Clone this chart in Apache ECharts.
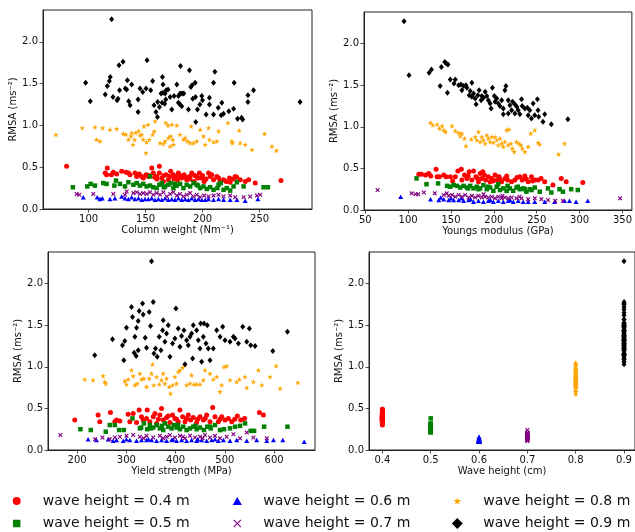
<!DOCTYPE html>
<html><head><meta charset="utf-8">
<script src="https://cdn.jsdelivr.net/npm/echarts@6/dist/echarts.min.js"></script>
<style>html,body{margin:0;padding:0;background:#fff}#c{width:635px;height:532px}</style>
</head><body><div id="c"></div>
<script>
// ---------- Data ----------
const waveHeights = [0.4, 0.5, 0.6, 0.7, 0.8, 0.9];
const seriesNames = ['wave height = 0.4 m','wave height = 0.5 m','wave height = 0.6 m','wave height = 0.7 m','wave height = 0.8 m','wave height = 0.9 m'];
const yTicks = [0, 0.5, 1.0, 1.5, 2.0];
const cwTicks = [100, 150, 200, 250];
const ymTicks = [50, 100, 150, 200, 250, 300, 350];
const ysTicks = [200, 300, 400, 500, 600];
const whTicks = [0.4, 0.5, 0.6, 0.7, 0.8, 0.9];

// Panel 1: Column weight (Nm^-1) vs RMSA
const cw_04 = [[114.6,0.43],[115.8,0.41],[116.4,0.49],[121.7,0.44],[124.6,0.42],[129,0.45],[132.8,0.44],[136.3,0.41],[140.7,0.43],[142.2,0.39],[144.5,0.42],[146.6,0.39],[148,0.37],[150.4,0.41],[152.4,0.39],[155.4,0.49],[156.8,0.43],[159.7,0.39],[162.1,0.43],[162.1,0.51],[164.2,0.37],[165.6,0.33],[168,0.41],[170,0.35],[172,0.45],[174.4,0.41],[176.8,0.39],[178.8,0.43],[181.7,0.37],[183.8,0.41],[186.1,0.35],[188.5,0.39],[190.5,0.43],[192.6,0.33],[194.9,0.39],[197.3,0.43],[199.3,0.37],[201.4,0.33],[205.2,0.43],[206.6,0.39],[209.6,0.35],[212.5,0.39],[215.4,0.33],[218.4,0.35],[220.7,0.33],[223.6,0.37],[228.6,0.39],[233,0.35],[237.4,0.33],[240.4,0.35],[246.2,0.31],[224.2,0.32],[80.7,0.51],[268.8,0.34],[153,0.40],[158,0.38],[166,0.40],[171,0.39],[175,0.36],[180,0.40],[185,0.38],[189,0.36],[196,0.37],[203,0.36],[208,0.41],[214,0.37],[227,0.36],[230,0.38],[120,0.41],[135,0.43],[160,0.36],[178,0.35],[193,0.40],[200,0.40]];
const cw_05 = [[86.2,0.26],[98.8,0.27],[101.8,0.30],[105.6,0.28],[112.9,0.31],[115.8,0.30],[124,0.34],[122.6,0.28],[127.5,0.30],[131.9,0.27],[134.9,0.32],[139.3,0.29],[142.2,0.31],[148,0.30],[150.9,0.27],[153.9,0.39],[153.9,0.28],[156.8,0.26],[159.7,0.25],[162.1,0.29],[164.2,0.31],[167.1,0.27],[170,0.29],[172,0.31],[174.4,0.25],[177.4,0.28],[180.3,0.30],[183.2,0.25],[186.1,0.29],[189.1,0.27],[192,0.31],[194.9,0.29],[197.9,0.25],[200.8,0.27],[203.7,0.24],[206.6,0.26],[209.6,0.23],[214,0.29],[216,0.31],[218.4,0.23],[221.3,0.25],[224.2,0.22],[227.2,0.27],[230.1,0.32],[236,0.27],[253.5,0.26],[257.3,0.26],[145,0.28],[166,0.26],[176,0.30],[196,0.28],[213,0.25]];
const cw_06 = [[95.3,0.14],[107.6,0.14],[110,0.12],[112,0.13],[118.8,0.12],[123.1,0.13],[129,0.15],[131.9,0.13],[134.9,0.12],[137.8,0.14],[140.7,0.12],[143.7,0.13],[146.6,0.11],[149.5,0.12],[152.4,0.12],[155.4,0.13],[158.3,0.11],[161.2,0.12],[164.2,0.11],[167.1,0.13],[170,0.11],[173,0.12],[175.9,0.11],[178.8,0.13],[181.7,0.11],[184.7,0.12],[187.6,0.11],[190.5,0.13],[193.5,0.11],[196.4,0.12],[199.3,0.11],[202.3,0.11],[205.2,0.12],[209.6,0.11],[214,0.12],[218.4,0.11],[224.2,0.11],[230.1,0.11],[237.4,0.10],[248.5,0.12]];
const cw_07 = [[89.5,0.18],[91.8,0.17],[104.1,0.18],[121.7,0.18],[133.4,0.21],[131.9,0.17],[139.3,0.19],[142.2,0.20],[145.1,0.18],[148,0.19],[150.9,0.18],[153.9,0.20],[156.8,0.17],[159.7,0.19],[162.7,0.17],[165.6,0.20],[168.6,0.15],[171.5,0.18],[174.4,0.20],[177.4,0.16],[180.3,0.18],[183.2,0.15],[186.1,0.17],[189.1,0.19],[192,0.15],[194.9,0.17],[197.9,0.14],[201.4,0.16],[205.2,0.15],[209.6,0.16],[214,0.17],[218.4,0.15],[224.2,0.16],[228.6,0.14],[236,0.14],[241.8,0.15],[247.7,0.16],[250.6,0.17]];
const cw_08 = [[71.3,0.89],[94.4,0.97],[105.6,0.98],[107,0.83],[110,0.81],[112.3,0.97],[124.6,0.96],[118.8,0.95],[130.5,0.90],[132.8,0.89],[134.9,0.83],[137.2,0.87],[139,0.77],[140.4,0.83],[137.8,0.91],[141.3,0.91],[143.7,0.93],[145.1,0.88],[146.6,0.89],[148.6,0.99],[152.2,1.01],[148,0.83],[150.9,0.80],[153.3,0.83],[156.2,0.89],[157.6,0.93],[158.3,1.05],[150.4,0.67],[162.7,0.79],[165.6,0.78],[167.1,0.81],[167.7,1.03],[169.7,1.0],[173,1.01],[177.4,1.00],[170,0.85],[172,0.87],[173.8,0.83],[171.5,0.75],[174.4,0.77],[180.3,0.89],[183.2,0.83],[184.7,0.85],[186.7,0.81],[189.9,0.99],[192,0.79],[197.9,0.95],[200.8,0.87],[202.3,0.77],[205.2,0.97],[206,0.83],[209.6,0.80],[212.5,0.81],[214,0.93],[222.2,1.03],[225.7,0.81],[226.3,0.79],[232.1,0.94],[233,0.79],[237.4,0.77],[243.3,0.71],[254.4,0.90],[260.9,0.75],[264.7,0.70],[189.1,0.79],[194.9,0.81]];
const cw_09 = [[120.2,2.27],[97.4,1.51],[101.5,1.29],[114.6,1.37],[116.4,1.47],[118.2,1.53],[119,1.58],[126.7,1.72],[130.2,1.76],[151.3,1.78],[121.4,1.34],[125,1.30],[125.8,1.32],[127.2,1.42],[132.2,1.44],[133.4,1.43],[134,1.54],[137.8,1.49],[135.2,1.29],[136.4,1.24],[143.4,1.31],[143.4,1.16],[145.1,1.44],[147.5,1.40],[150.4,1.44],[154.5,1.42],[156.2,1.53],[157.4,1.24],[159.1,1.16],[160.4,1.10],[160.6,1.28],[162.1,1.22],[164.8,1.58],[165.3,1.49],[163.6,1.38],[165.3,1.39],[167.1,1.38],[168,1.42],[169.7,1.43],[164.5,1.27],[166.8,1.26],[167.7,1.31],[171.5,1.34],[173,1.19],[175,1.35],[177.4,1.49],[178.8,1.35],[180.3,1.38],[180.6,1.71],[178.8,1.27],[180.3,1.25],[181.7,1.23],[182,1.38],[183.5,1.38],[187.6,1.19],[188.5,1.66],[189.7,1.46],[190.8,1.48],[193.5,1.51],[191.4,1.32],[193.8,1.34],[195.5,1.19],[194,1.04],[197.6,1.25],[199.3,1.35],[199.9,1.30],[203.1,1.13],[206,1.33],[206,1.25],[209.6,1.51],[210.8,1.64],[209.6,1.13],[213.7,1.21],[216.9,1.27],[216.3,1.12],[218.4,1.14],[223,1.17],[227.2,1.20],[227.7,1.51],[230.7,1.08],[234.2,1.09],[235.1,1.07],[239.8,1.28],[239.8,1.36],[244.7,1.42],[285.5,1.28]];

// Panel 2: Youngs modulus (GPa) vs RMSA
const ym_04 = [[112.5,0.43],[115.6,0.43],[120.3,0.42],[124.1,0.44],[126.4,0.41],[132.6,0.49],[133.8,0.40],[136.5,0.40],[141.5,0.42],[144.2,0.40],[149.2,0.40],[151.9,0.35],[155,0.40],[162,0.49],[162.7,0.36],[165.8,0.42],[168.5,0.38],[171.2,0.46],[174.3,0.36],[176.3,0.47],[179,0.40],[182,0.34],[184,0.44],[185.9,0.38],[189,0.42],[190.5,0.36],[193.6,0.40],[195.6,0.34],[197.5,0.38],[201.4,0.42],[203.3,0.36],[206,0.40],[209.1,0.34],[212.9,0.38],[216,0.36],[220.7,0.34],[224.5,0.36],[230.3,0.40],[233,0.36],[236.1,0.41],[240,0.34],[243.8,0.40],[247.7,0.36],[251.5,0.36],[259.3,0.34],[268.9,0.30],[278.6,0.38],[284.4,0.34],[303.7,0.33],[158,0.47],[170,0.41],[181,0.38],[187,0.46],[199,0.35],[207,0.37],[215,0.41],[227,0.39],[238,0.37],[245,0.35],[255,0.38]];
const ym_05 = [[109.8,0.38],[121.4,0.31],[134.9,0.32],[145.4,0.29],[149.2,0.28],[153.1,0.30],[157,0.29],[160.8,0.27],[164.7,0.29],[168.5,0.27],[172.4,0.29],[176.3,0.26],[180.1,0.28],[184,0.26],[187.8,0.30],[191.7,0.25],[195.6,0.27],[199.4,0.23],[203.3,0.28],[207.1,0.24],[211,0.26],[214.9,0.23],[218.7,0.26],[222.6,0.23],[226.4,0.27],[230.3,0.25],[234.2,0.26],[238,0.22],[241.9,0.25],[247.7,0.27],[253.5,0.22],[263.1,0.26],[267,0.21],[276.6,0.25],[280.5,0.22],[290.2,0.25],[297.9,0.24],[170,0.26],[182,0.25],[193,0.28],[205,0.31],[216,0.29],[228,0.28],[236,0.25],[244,0.24]];
const ym_06 = [[91.3,0.16],[126.1,0.13],[135.7,0.12],[141.5,0.13],[147.3,0.12],[153.1,0.12],[158.9,0.12],[164.7,0.11],[170.5,0.12],[176.3,0.10],[182,0.11],[187.8,0.10],[193.6,0.11],[199.4,0.10],[205.2,0.11],[211,0.10],[216.8,0.11],[222.6,0.10],[228.4,0.11],[234.2,0.10],[240,0.10],[247.7,0.10],[259.3,0.10],[270.8,0.10],[282.4,0.11],[288.2,0.11],[295.9,0.10],[309.5,0.11],[150,0.14],[173,0.13],[196,0.12],[219,0.12],[138,0.15],[162,0.14]];
const ym_07 = [[64.3,0.24],[104.1,0.20],[108.7,0.19],[111.8,0.19],[118.3,0.21],[131.1,0.20],[141.5,0.18],[147.3,0.17],[151.2,0.18],[155,0.16],[158.9,0.18],[162.7,0.16],[166.6,0.18],[170.5,0.15],[174.3,0.17],[178.2,0.15],[182,0.17],[185.9,0.15],[189.8,0.16],[193.6,0.15],[197.5,0.16],[201.4,0.14],[205.2,0.16],[209.1,0.14],[212.9,0.15],[216.8,0.14],[220.7,0.15],[226.4,0.14],[232.3,0.14],[240,0.13],[247.7,0.14],[255.4,0.13],[263.1,0.12],[271.6,0.11],[280.5,0.11],[347.3,0.14],[145,0.20],[188,0.19],[210,0.17],[230,0.16]];
const ym_08 = [[126.1,1.05],[128.8,1.02],[133.8,1.03],[136.5,0.98],[139.6,1.01],[141.5,0.96],[143.8,0.94],[151.2,1.01],[155,0.95],[158.9,0.93],[160.8,0.89],[162.7,0.92],[165.8,0.86],[167.4,0.77],[173.6,0.85],[178.2,0.88],[180.1,0.84],[182,0.94],[184,0.82],[185.9,0.88],[187.8,0.84],[189.8,0.80],[191.7,0.90],[193.6,0.86],[195.6,0.82],[197.5,0.88],[199.4,0.81],[201.4,0.88],[203.3,0.84],[205.2,0.78],[207.1,0.86],[209.1,0.80],[211,0.76],[212.9,0.82],[214.9,0.96],[217.6,0.97],[216.8,0.78],[219.9,0.80],[221.4,0.74],[223.7,0.70],[226.4,0.82],[229.1,0.80],[231.5,0.78],[233,0.74],[236.1,0.70],[240,0.76],[243,0.92],[247.7,0.96],[251.5,0.81],[253.5,0.79],[282.4,0.80],[275.5,0.67]];
const ym_09 = [[95.2,2.27],[101,1.62],[124.5,1.65],[127.2,1.69],[138.8,1.72],[142.7,1.78],[144.6,1.76],[146.5,1.75],[137.3,1.49],[145.8,1.41],[149.2,1.57],[155,1.57],[153.5,1.52],[158.9,1.50],[161.6,1.51],[164.7,1.49],[167.4,1.50],[162.7,1.44],[168.5,1.47],[174.3,1.53],[172.4,1.43],[171.2,1.38],[174.3,1.36],[176.3,1.40],[178.2,1.34],[179.3,1.27],[181.3,1.38],[182.8,1.44],[185.9,1.37],[185.1,1.32],[187.8,1.35],[189.8,1.42],[191.7,1.37],[193.6,1.32],[195.6,1.28],[198.3,1.47],[200.6,1.37],[196.7,1.22],[201.4,1.30],[203.3,1.34],[205.2,1.28],[207.1,1.25],[209.1,1.32],[211,1.22],[212.9,1.44],[214.1,1.49],[216.8,1.32],[218.7,1.26],[220.7,1.20],[211,1.15],[221.8,1.30],[224.5,1.27],[226.8,1.24],[228.4,1.20],[232.3,1.33],[233,1.25],[236.1,1.22],[230.3,1.15],[239.2,1.23],[241.9,1.20],[245.8,1.28],[240,1.14],[243.8,1.10],[247.7,1.14],[250.8,1.33],[251.5,1.20],[252.3,1.12],[259.3,1.15],[257.3,1.06],[267,1.03],[286.3,1.09],[216.8,1.16],[224.5,1.16]];

// Panel 3: Yield strength (MPa) vs RMSA
const ys_04 = [[195.3,0.36],[242.7,0.42],[246.1,0.34],[267.8,0.45],[276.6,0.34],[280,0.36],[286.8,0.35],[303.7,0.43],[307.1,0.34],[313.9,0.44],[320.7,0.33],[326.1,0.48],[330.8,0.40],[342.4,0.48],[334.2,0.36],[341,0.38],[347.8,0.34],[354.6,0.40],[361.4,0.32],[368.1,0.42],[371.5,0.50],[374.9,0.36],[381.7,0.39],[388.5,0.33],[393.9,0.42],[398.6,0.38],[405.4,0.34],[408.8,0.48],[414.2,0.40],[419,0.34],[425.8,0.42],[430.5,0.36],[435.9,0.39],[442.7,0.33],[449.5,0.40],[456.3,0.36],[463.1,0.42],[469.8,0.34],[475.3,0.51],[480,0.40],[486.8,0.34],[493.6,0.40],[500.3,0.36],[507.1,0.38],[513.9,0.34],[525.4,0.41],[532.2,0.36],[570.2,0.45],[578.3,0.42],[358,0.44],[365,0.37],[385,0.41],[402,0.37],[422,0.38],[445,0.37],[460,0.38],[490,0.37],[520,0.37],[540,0.38]];
const ys_05 = [[206.8,0.25],[227.8,0.24],[258.3,0.22],[266.4,0.30],[276.6,0.30],[285.4,0.24],[294.9,0.24],[312.5,0.38],[327.5,0.26],[335.6,0.32],[342.4,0.25],[347.8,0.30],[354.6,0.27],[361.4,0.30],[368.1,0.26],[374.9,0.24],[378.3,0.32],[385.1,0.28],[391.9,0.26],[396.6,0.30],[402,0.27],[408.8,0.25],[415.6,0.28],[422.4,0.24],[429.2,0.26],[435.9,0.28],[442.7,0.25],[449.5,0.27],[457.6,0.24],[464.4,0.28],[471.2,0.26],[480,0.30],[490.2,0.24],[498.3,0.25],[510.5,0.26],[520.7,0.28],[530.8,0.29],[541,0.32],[552.5,0.23],[559.3,0.23],[579.7,0.28],[627.1,0.28],[330,0.27],[350,0.26],[372,0.29],[405,0.30],[440,0.29],[470,0.28]];
const ys_06 = [[222.4,0.13],[239.3,0.12],[263.1,0.13],[273.2,0.11],[280,0.12],[293.6,0.11],[307.1,0.12],[320.7,0.11],[330.8,0.12],[341,0.12],[351.2,0.12],[361.4,0.11],[371.5,0.12],[381.7,0.11],[391.9,0.12],[402,0.11],[412.2,0.12],[422.4,0.11],[432.5,0.12],[442.7,0.11],[452.9,0.12],[463.1,0.11],[473.2,0.12],[486.8,0.11],[497,0.12],[510.5,0.11],[524.1,0.12],[544.4,0.11],[564.7,0.12],[585.1,0.11],[598.6,0.12],[617.6,0.12],[661,0.10],[300,0.13],[345,0.13],[395,0.13],[445,0.13],[480,0.13]];
const ys_07 = [[166.1,0.18],[236.6,0.13],[251.5,0.15],[266.4,0.13],[276.6,0.15],[286.8,0.16],[300.3,0.17],[313.9,0.18],[327.5,0.16],[341,0.17],[354.6,0.15],[368.1,0.17],[381.7,0.16],[388.5,0.18],[398.6,0.15],[408.8,0.17],[419,0.14],[429.2,0.17],[439.3,0.15],[449.5,0.16],[459.7,0.18],[469.8,0.15],[480,0.17],[490.2,0.14],[503.7,0.16],[517.3,0.19],[530.8,0.14],[544.4,0.21],[558,0.15],[585.1,0.14],[335,0.14],[375,0.14],[415,0.16],[455,0.14]];
const ys_08 = [[215.6,0.85],[232.5,0.84],[252.9,0.89],[256.3,0.82],[258.3,0.80],[296.9,0.83],[300.3,0.79],[303.7,0.85],[310.5,0.96],[313.9,0.89],[317.3,0.78],[322,0.80],[327.5,0.92],[330.8,0.85],[335.6,0.86],[341,0.76],[346.4,0.86],[351.2,0.92],[353.2,1.03],[355.9,0.78],[361.4,0.88],[366.8,0.79],[371.5,0.84],[374.9,0.92],[378.3,0.80],[381.7,0.86],[387.1,0.76],[389.8,0.68],[393.9,0.78],[398.6,0.88],[402,0.80],[405.4,0.94],[408.8,0.96],[414.2,0.99],[419,1.02],[422.4,0.78],[429.2,0.80],[432.5,0.90],[437.3,0.79],[442.7,0.79],[449.5,0.79],[456.3,0.84],[459.7,0.96],[469.8,0.92],[476.6,0.85],[483.4,0.88],[490.2,0.70],[493.6,0.78],[498.3,1.00],[503.7,1.01],[510.5,0.84],[524.1,0.82],[529.5,0.85],[541,0.88],[544.4,0.75],[558,0.82],[568.1,0.96],[574.9,0.78],[591.9,0.88],[604.1,1.01],[612.2,0.74],[648.1,0.81]];
const ys_09 = [[351.2,2.27],[235.9,1.14],[271.9,1.33],[292.2,1.26],[294.9,1.08],[296.9,1.31],[300.3,1.47],[310.5,1.72],[312.5,1.60],[317.3,1.36],[320.7,1.47],[324.1,1.55],[326.1,1.67],[332.9,1.76],[334.2,1.63],[338.3,1.35],[341,1.23],[346.4,1.66],[349.2,1.49],[354.6,1.78],[356,1.16],[324.1,1.20],[315.9,1.17],[320,1.13],[359.3,1.22],[362.7,1.12],[366.8,1.36],[370.2,1.20],[373.6,1.44],[374.9,1.56],[378.3,1.30],[381.7,1.40],[385.1,1.50],[388.5,1.12],[393.9,1.28],[398.6,1.34],[400.7,1.70],[405.4,1.46],[408.8,1.24],[412.2,1.37],[417,1.44],[419,1.03],[422.4,1.32],[425.8,1.26],[429.2,1.36],[432.5,1.40],[434.6,1.10],[435.9,1.50],[442.7,1.44],[446.1,1.32],[449.5,1.22],[450.8,1.52],[452.9,1.06],[456.3,1.36],[457.6,1.52],[461.7,1.28],[464.4,1.50],[466.4,1.22],[469.8,1.08],[476.6,1.22],[483.4,1.44],[490.2,1.36],[495.6,1.48],[500.3,1.32],[510.5,1.30],[517.3,1.36],[520.7,1.34],[527.5,1.28],[536.3,1.48],[544.4,1.30],[549.8,1.46],[552.5,1.26],[561.4,1.25],[597.3,1.19],[627.1,1.42]];

// Panel 4: wave height (cm) vs RMSA — same samples, plotted at their wave height
const panel4Source = [ym_04, ym_05, ym_06, ym_07, ym_08, ym_09];

// ---------- Styling ----------
const colors = ['#ff0000', '#008000', '#0000ff', '#800080', '#ffa500', '#000000'];
const starPath = 'path://M10 0L12.25 6.91L19.51 6.91L13.63 11.18L15.88 18.09L10 13.82L4.12 18.09L6.37 11.18L0.49 6.91L7.75 6.91Z';
const xPathThick = 'path://M0 1.8L1.8 0L5 3.2L8.2 0L10 1.8L6.8 5L10 8.2L8.2 10L5 6.8L1.8 10L0 8.2L3.2 5Z';
const xPathThin = 'path://M0 1L1 0L5 4L9 0L10 1L6 5L10 9L9 10L5 6L1 10L0 9L4 5Z';
const triPath = 'path://M5 0L10 8.7L0 8.7Z';
const sqPath = 'path://M0 0H10V10H0Z';
const diaPath = 'path://M5.5 0L11 5.5L5.5 11L0 5.5Z';
const symbols = ['circle', 'rect', 'triangle', xPathThick, starPath, 'diamond'];
const symbolSizes = [5, 4.5, [5, 4.5], 4.5, 5.5, [5, 6]];

const FONT = 'DejaVu Sans';
const grids = [
  {left: 43, top: 10, width: 269, height: 199},
  {left: 364, top: 12, width: 269, height: 198},
  {left: 48, top: 252, width: 267, height: 198},
  {left: 369, top: 252, width: 268, height: 198}
].map(g => Object.assign({show: true, borderColor: '#222', borderWidth: 1, backgroundColor: 'transparent'}, g));

function fmt1(v) { return Number(v).toFixed(1); }
function fmt0(v) { return String(Math.round(v)); }

function xAxis(gi, name, min, max, ticks, formatter) {
  return {
    type: 'value', gridIndex: gi, min: min, max: max,
    name: name, nameLocation: 'middle', nameGap: 16,
    nameTextStyle: {fontFamily: FONT, fontSize: 10, color: '#111'},
    axisLine: {show: true, lineStyle: {color: '#222', width: 1}},
    splitLine: {show: false},
    axisTick: {show: true, inside: false, length: 3.5, lineStyle: {color: '#222', width: 0.8}, customValues: ticks},
    axisLabel: {customValues: ticks, formatter: formatter, fontFamily: FONT, fontSize: 10, color: '#111', margin: 5}
  };
}
function yAxis(gi) {
  return {
    type: 'value', gridIndex: gi, min: 0, max: 2.38,
    name: 'RMSA (ms\u207B\u00B2)', nameLocation: 'middle', nameGap: 22, nameRotate: 90,
    nameTextStyle: {fontFamily: FONT, fontSize: 10, color: '#111'},
    axisLine: {show: true, lineStyle: {color: '#222', width: 1}},
    splitLine: {show: false},
    axisTick: {show: true, inside: false, length: 3.5, lineStyle: {color: '#222', width: 0.8}, customValues: yTicks},
    axisLabel: {customValues: yTicks, formatter: fmt1, fontFamily: FONT, fontSize: 10, color: '#111', margin: 5}
  };
}

const xAxes = [
  xAxis(0, 'Column weight (Nm\u207B\u00B9)', 60, 296, cwTicks, fmt0),
  xAxis(1, 'Youngs modulus (GPa)', 48.5, 361, ymTicks, fmt0),
  xAxis(2, 'Yield strength (MPa)', 141, 683, ysTicks, fmt0),
  xAxis(3, 'Wave height (cm)', 0.3723, 0.9227, whTicks, fmt1)
];
const yAxes = [yAxis(0), yAxis(1), yAxis(2), yAxis(3)];

const panelData = [
  [cw_04, cw_05, cw_06, cw_07, cw_08, cw_09],
  [ym_04, ym_05, ym_06, ym_07, ym_08, ym_09],
  [ys_04, ys_05, ys_06, ys_07, ys_08, ys_09],
  panel4Source.map((arr, k) => arr.map(p => [waveHeights[k], p[1]]))
];

const series = [];
panelData.forEach((sets, gi) => {
  sets.forEach((data, k) => {
    series.push({
      type: 'scatter', name: seriesNames[k], xAxisIndex: gi, yAxisIndex: gi,
      data: data, symbol: symbols[k], symbolSize: symbolSizes[k],
      itemStyle: {color: colors[k], opacity: 1}, emphasis: {disabled: true}, silent: true
    });
  });
});

// Legend: 3 columns x 2 rows, one legend component per entry
const legendIcons = ['circle', sqPath, triPath, xPathThin, starPath, diaPath];
const legendSizes = [8, 7.5, 8, 8, 7.5, 11];
const legendIconWidths = [8, 7.5, 9.2, 8, 7.9, 11];
const colCenter = [16.7, 237.3, 457.3];
const rowTop = [494, 516.5];
const legends = seriesNames.map((nm, k) => {
  const col = Math.floor(k / 2), row = k % 2;
  return {
    left: colCenter[col] - legendIconWidths[k] / 2, top: rowTop[row], padding: 0, itemGap: 0,
    itemWidth: 34, itemHeight: legendSizes[k], symbolKeepAspect: true, selectedMode: false,
    data: [{name: nm, icon: legendIcons[k]}],
    textStyle: {fontFamily: FONT, fontSize: 14, color: '#111', padding: [0, 0, 0, 4]}
  };
});

const chart = echarts.init(document.getElementById('c'), null, {renderer: 'canvas'});
chart.setOption({
  animation: false,
  backgroundColor: '#fff',
  grid: grids, xAxis: xAxes, yAxis: yAxes,
  legend: legends,
  series: series
});
</script></body></html>
